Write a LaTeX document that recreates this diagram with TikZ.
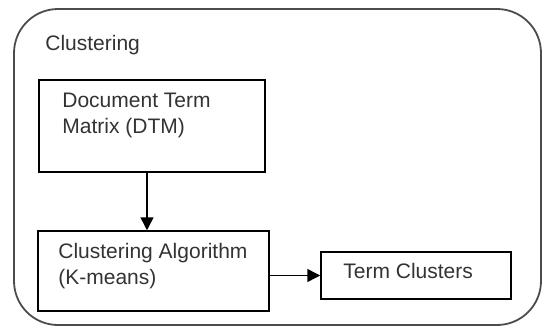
\documentclass[tikz,border=0pt]{standalone}
\usepackage{fontspec}
\setmainfont{Liberation Sans}
\usetikzlibrary{arrows.meta}
\begin{document}
\begin{tikzpicture}[x=0.5pt,y=-0.5pt,
  box/.style={draw=black,line width=0.75pt,rectangle,inner sep=0pt},
  lbl/.style={anchor=west,align=left,inner sep=0pt,text=black!80,
    font=\fontsize{10.5pt}{13pt}\selectfont},
  arr/.style={draw=black,line width=0.75pt,-{Triangle[length=6.5pt,width=6.5pt]}}]
\useasboundingbox (0,0) rectangle (542,327);
% outer frame
\draw[draw=black!70,line width=0.9pt,rounded corners=22pt] (14,9) rectangle (541,325);
\node[lbl] (title) at (45,45) {Clustering};
% process boxes
\node[box,minimum width=113pt,minimum height=46pt] (dtm) at (152,126) {};
\node[box,minimum width=115.5pt,minimum height=40pt] (alg) at (153.5,271) {};
\node[box,minimum width=95pt,minimum height=23.5pt] (tc) at (416,275.5) {};
\node[lbl] (dtmtext) at (62,115) {Document Term\\Matrix (DTM)};
\node[lbl] (algtext) at (58,266) {Clustering Algorithm\\(K-means)};
\node[lbl] (tctext) at (343,271) {Term Clusters};
% connectors
\draw[arr] ([xshift=-2.5pt]dtm.south) -- ([xshift=-3.25pt]alg.north);
\draw[arr] (tc.west -| alg.east) -- (tc.west);
\end{tikzpicture}
\end{document}
